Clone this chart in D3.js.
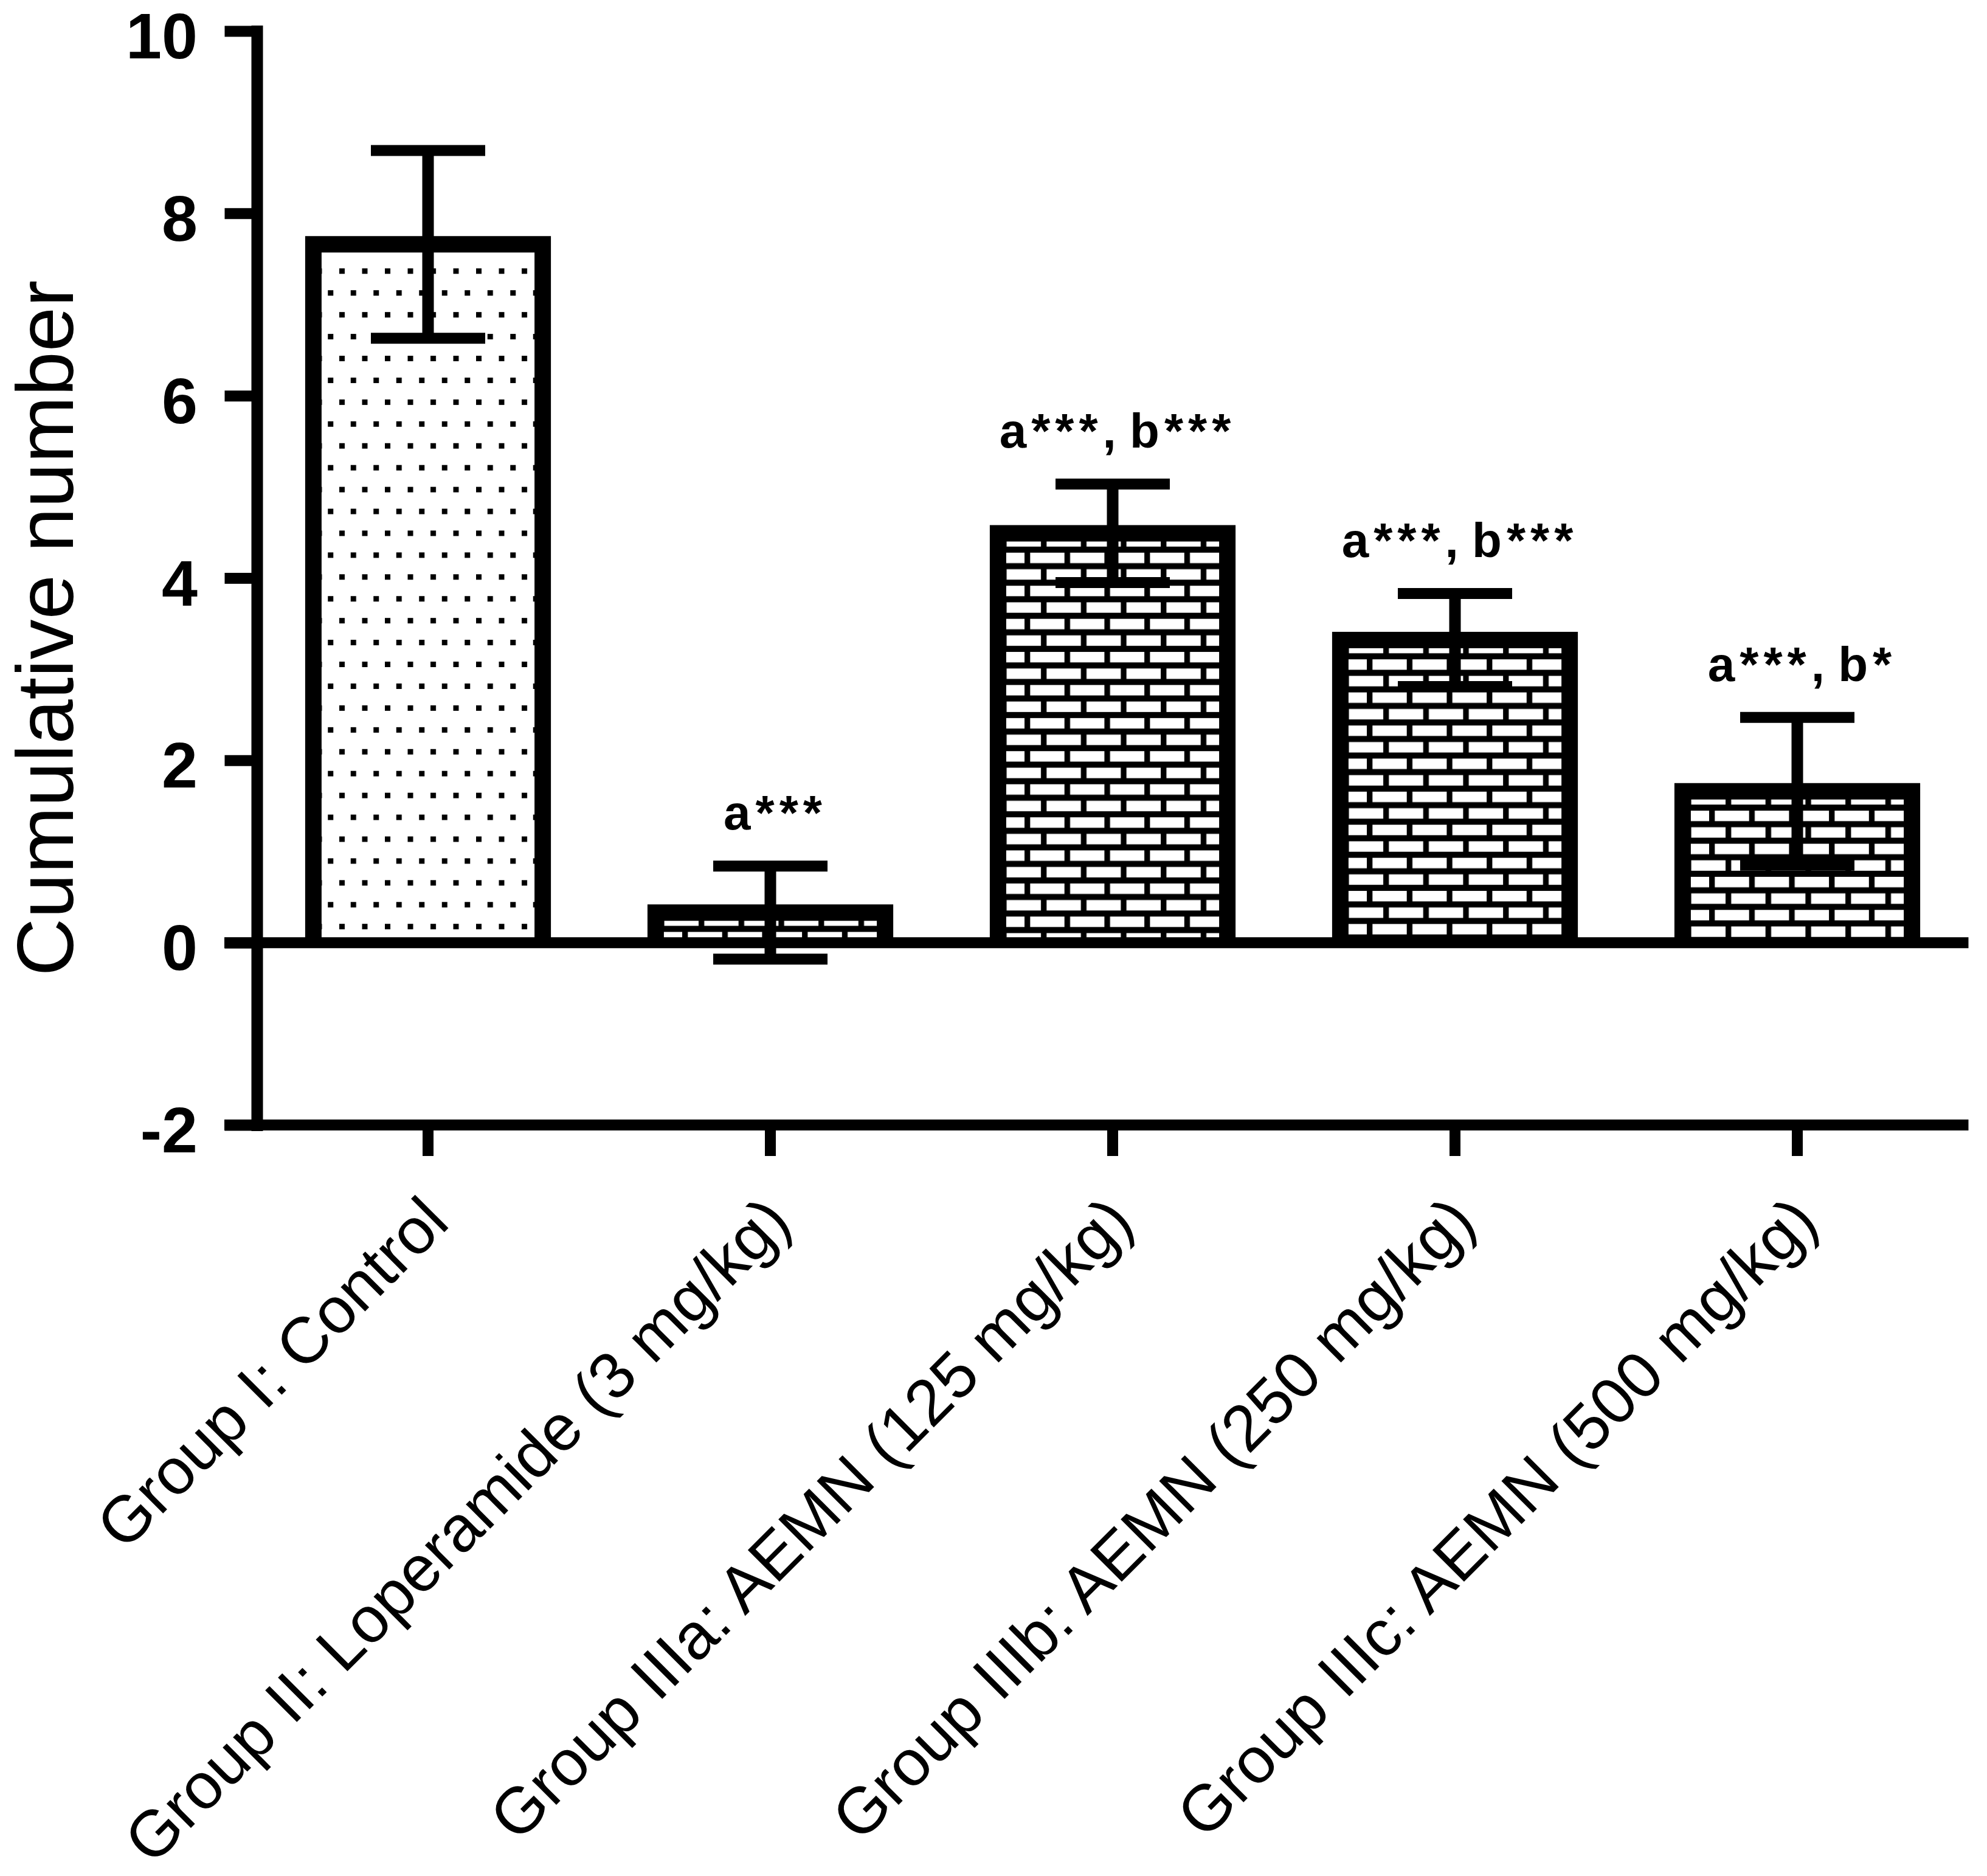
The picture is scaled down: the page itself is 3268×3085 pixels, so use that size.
<!DOCTYPE html>
<html>
<head>
<meta charset="utf-8">
<script src="https://cdn.jsdelivr.net/npm/d3@7"></script>
<style>
  html, body { margin: 0; padding: 0; background: #fff; }
  svg { display: block; }
  text { font-family: "Liberation Sans", Arial, Helvetica, sans-serif; fill: #000; }
</style>
</head>
<body>
<script>
// ---------------- DATA ----------------
const categories = [
  "Group I: Control",
  "Group II: Loperamide (3 mg/kg)",
  "Group IIIa: AEMN (125 mg/kg)",
  "Group IIIb: AEMN (250 mg/kg)",
  "Group IIIc: AEMN (500 mg/kg)"
];
const means = [7.66, 0.33, 4.49, 3.32, 1.66];
const errors = [1.03, 0.51, 0.54, 0.51, 0.81];
const annotations = ["", "a***", "a***, b***", "a***, b***", "a***, b*"];
const yTicks = [-2, 0, 2, 4, 6, 8, 10];
const yTitle = "Cumulative number";

// ---------------- LAYOUT ----------------
const W = 3268, H = 3085;
const svg = d3.select("body").append("svg").attr("width", W).attr("height", H);
svg.append("rect").attr("width", W).attr("height", H).attr("fill", "#fff");

const axisX = 422.5;
const rightEnd = 3237.5;
const leftEnd = 369;
const y = d3.scaleLinear().domain([-2, 10]).range([1850, 51]);
const x = d3.scaleBand().domain(categories).range([axisX, rightEnd])
  .paddingInner(0.33).paddingOuter(0.165);
const bw = x.bandwidth();
const cx = c => x(c) + bw / 2;

const data = categories.map((c, i) => ({c, i, m: means[i], e: errors[i], a: annotations[i]}));

// ---------------- PATTERNS ----------------
const defs = svg.append("defs");
data.forEach(d => {
  const xc = cx(d.c), yt = y(d.m);
  if (d.i === 0) {
    const p = defs.append("pattern").attr("id", "pat" + d.i)
      .attr("patternUnits", "userSpaceOnUse")
      .attr("width", 37.5).attr("height", 71.86)
      .attr("x", xc - 146).attr("y", yt + 39.5);
    p.append("rect").attr("width", 37.5).attr("height", 71.86).attr("fill", "#fff");
    p.append("rect").attr("x", 0).attr("y", 0).attr("width", 9).attr("height", 9).attr("fill", "#000");
    p.append("rect").attr("x", 18.75).attr("y", 35.93).attr("width", 9).attr("height", 9).attr("fill", "#000");
  } else {
    const p = defs.append("pattern").attr("id", "pat" + d.i)
      .attr("patternUnits", "userSpaceOnUse")
      .attr("width", 65.7).attr("height", 54.4)
      .attr("x", xc - 145).attr("y", yt + 13.5 + 18.3);
    p.append("rect").attr("width", 65.7).attr("height", 54.4).attr("fill", "#000");
    p.append("rect").attr("x", 9.3).attr("y", 0).attr("width", 56.4).attr("height", 17.2).attr("fill", "#fff");
    p.append("rect").attr("x", 0).attr("y", 27.2).attr("width", 27).attr("height", 17.2).attr("fill", "#fff");
    p.append("rect").attr("x", 36.3).attr("y", 27.2).attr("width", 29.4).attr("height", 17.2).attr("fill", "#fff");
  }
});

// ---------------- BARS ----------------
const bars = svg.append("g").selectAll("g").data(data).join("g");
bars.append("rect")
  .attr("x", d => x(d.c)).attr("width", bw)
  .attr("y", d => y(d.m)).attr("height", d => y(0) - y(d.m))
  .attr("fill", d => `url(#pat${d.i})`);
bars.append("path")
  .attr("d", d => `M${x(d.c)},${y(0)}V${y(d.m)}H${x(d.c) + bw}V${y(0)}`)
  .attr("fill", "none").attr("stroke", "#000").attr("stroke-width", 27)
  .attr("stroke-linejoin", "miter");

// ---------------- ERROR BARS ----------------
const capW = 188;
const eb = svg.append("g").selectAll("g").data(data).join("g");
eb.append("line")
  .attr("x1", d => cx(d.c)).attr("x2", d => cx(d.c))
  .attr("y1", d => y(d.m - d.e)).attr("y2", d => y(d.m + d.e))
  .attr("stroke", "#000").attr("stroke-width", 19);
eb.append("line")
  .attr("x1", d => cx(d.c) - capW / 2).attr("x2", d => cx(d.c) + capW / 2)
  .attr("y1", d => y(d.m + d.e)).attr("y2", d => y(d.m + d.e))
  .attr("stroke", "#000").attr("stroke-width", 18);
eb.append("line")
  .attr("x1", d => cx(d.c) - capW / 2).attr("x2", d => cx(d.c) + capW / 2)
  .attr("y1", d => y(d.m - d.e)).attr("y2", d => y(d.m - d.e))
  .attr("stroke", "#000").attr("stroke-width", 18);

// ---------------- ZERO LINE ----------------
svg.append("line").attr("x1", leftEnd).attr("x2", rightEnd)
  .attr("y1", y(0)).attr("y2", y(0))
  .attr("stroke", "#000").attr("stroke-width", 18);

// ---------------- Y AXIS ----------------
const yAxis = svg.append("g").attr("transform", `translate(${axisX},0)`)
  .call(d3.axisLeft(y).tickValues(yTicks).tickFormat(d => String(d))
    .tickSize(53).tickSizeOuter(0).tickPadding(44.5));
yAxis.select(".domain").attr("stroke", "#000").attr("stroke-width", 19)
  .attr("stroke-linecap", "square");
yAxis.selectAll(".tick line").attr("stroke", "#000").attr("stroke-width", 18);
yAxis.selectAll(".tick text")
  .attr("font-size", 106).attr("font-weight", "bold")
  .attr("font-family", '"Liberation Sans", Arial, sans-serif')
  .attr("dy", "0.42em");

// ---------------- X AXIS ----------------
svg.append("line").attr("x1", leftEnd).attr("x2", rightEnd)
  .attr("y1", y(-2)).attr("y2", y(-2))
  .attr("stroke", "#000").attr("stroke-width", 18);
const xAxis = svg.append("g").attr("transform", `translate(0,${y(-2)})`)
  .call(d3.axisBottom(x).tickSize(51).tickSizeOuter(0));
xAxis.select(".domain").remove();
xAxis.selectAll(".tick line").attr("stroke", "#000").attr("stroke-width", 18);
xAxis.selectAll(".tick text")
  .attr("font-size", 107).attr("font-weight", "normal")
  .attr("font-family", '"Liberation Sans", Arial, sans-serif')
  .attr("text-anchor", "end")
  .attr("y", 0).attr("x", 0).attr("dy", "0.35em")
  .attr("transform", "translate(12,138) rotate(-45)");

// ---------------- Y TITLE ----------------
svg.append("text")
  .attr("transform", `translate(120,${1033}) rotate(-90)`)
  .attr("text-anchor", "middle")
  .attr("font-size", 132)
  .text(yTitle);

// ---------------- ANNOTATIONS ----------------
const ann = svg.append("g").selectAll("text").data(data.filter(d => d.a)).join("text")
  .attr("x", d => cx(d.c) + 8)
  .attr("y", d => y(d.m + d.e) - 60)
  .attr("text-anchor", "middle")
  .attr("font-size", 80).attr("font-weight", "bold");
ann.each(function(d) {
  const t = d3.select(this);
  const parts = d.a.match(/\*+|[^*]+/g);
  parts.forEach(p => {
    const ts = t.append("tspan").text(p);
    if (p[0] === "*") ts.attr("dx", 8).attr("letter-spacing", 8);
  });
});
</script>
</body>
</html>
